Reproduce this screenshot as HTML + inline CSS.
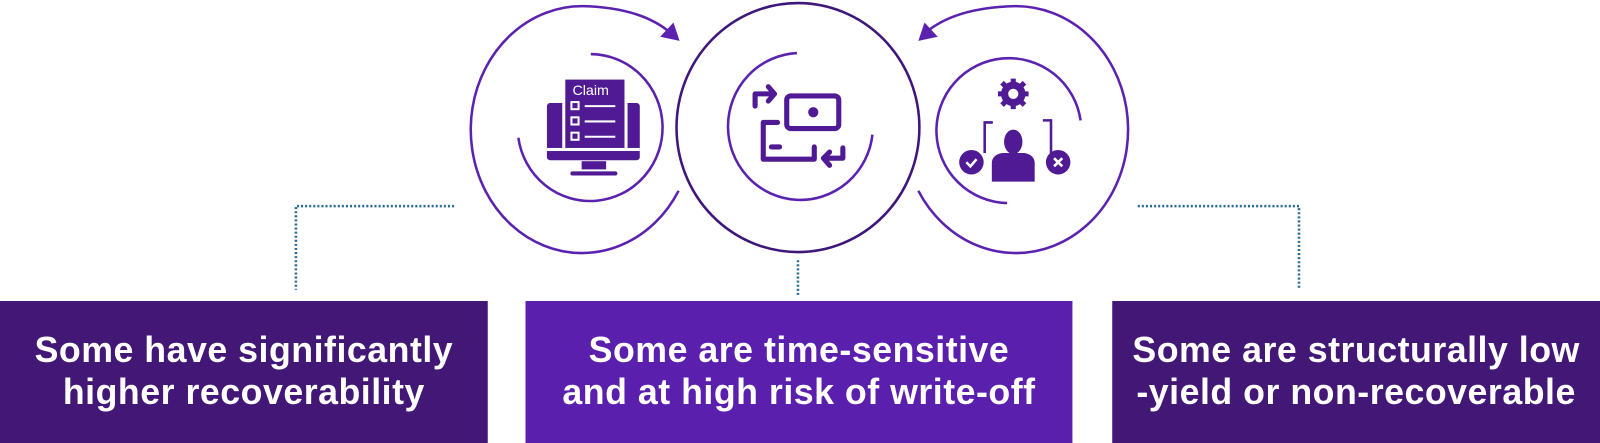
<!DOCTYPE html>
<html><head><meta charset="utf-8"><style>
html,body{margin:0;padding:0;background:#fff;width:1600px;height:443px;overflow:hidden;position:relative;font-family:"Liberation Sans",sans-serif}
#w{position:absolute;left:0;top:0;width:1568px;height:434px;transform:scale(1.0204);transform-origin:0 0}
.box{position:absolute;top:295px;height:142px;box-sizing:border-box;padding-bottom:4px;display:flex;align-items:center;justify-content:center;text-align:center;color:#fff;font-weight:bold;font-size:35px;line-height:41px;letter-spacing:0.5px}
svg{position:absolute;left:0;top:0}
</style></head><body><div id="w">
<svg width="1568" height="434" viewBox="0 0 1568 434">
<g fill="none" stroke="#2b6b8c" stroke-width="2.5" stroke-dasharray="2 2">
<path d="M445 202 H290 V284"/>
<path d="M1115 202 H1273 V284"/>
<path d="M782 255 V290"/>
</g>
<g fill="none" stroke="#5b22b0" stroke-width="2.5">
<path d="M658 33 C640 17 612 7 571 6 A109 121 0 1 0 665 187"/>
<path d="M906 33 C924 17 952 7 995 6 A110 121 0 1 1 900 187"/>
<path d="M579 53 A71 72 0 1 1 508 135"/>
<path d="M781 52 A71 72 0 1 0 855 132"/>
<path d="M1059 118 A71 71 0 1 0 987 199"/>
</g>
<path d="M666 40 L647 36 L660 22 z" fill="#5b22b0"/>
<path d="M900 40 L919 36 L906 22 z" fill="#5b22b0"/>
<ellipse cx="782" cy="125" rx="119" ry="122" fill="none" stroke="#3f1679" stroke-width="2.5"/>
<g fill="#4f1a93">
<rect x="536" y="101" width="91" height="56" rx="3"/>
<rect x="554" y="78" width="58" height="68"/>
<rect x="570" y="158" width="24" height="8"/>
<rect x="559" y="168" width="46" height="4" rx="2"/>
</g>
<g fill="#fff"><rect x="536" y="145" width="91" height="3"/><rect x="551" y="101" width="3" height="44"/><rect x="612" y="101" width="3" height="44"/></g>
<text x="561" y="93" fill="#fff" font-size="14" font-family="Liberation Sans">Claim</text>
<g fill="none" stroke="#fff" stroke-width="2">
<rect x="560" y="100" width="7" height="7"/><rect x="560" y="115" width="7" height="7"/><rect x="560" y="130" width="7" height="7"/>
<path d="M573 104h30M573 119h30M573 134h30"/></g>
<g fill="none" stroke="#4f1a93" stroke-width="5" stroke-linecap="round" stroke-linejoin="round">
<rect x="771" y="94" width="51" height="32" rx="4"/>
<path d="M762 120h-14v36h50v-12"/>
<path d="M740 104v-12h18M753 85l6 7-6 7"/>
<path d="M826 145v10h-18M813 149l-6 6 6 7"/>
<path d="M756 144h8"/>
</g>
<circle cx="797" cy="110" r="5" fill="#4f1a93"/>
<g fill="#4f1a93">
<circle cx="993" cy="92" r="12"/>
<g stroke="#4f1a93" stroke-width="5"><path d="M993 77v30M978 92h30M982 81l22 22M1004 81l-22 22"/></g>
<ellipse cx="993" cy="139" rx="9" ry="12"/>
<path d="M972 178v-18q0-8 10-10h22q10 2 10 10v18z"/>
<circle cx="952" cy="159" r="12"/><circle cx="1037" cy="159" r="12"/>
</g>
<circle cx="993" cy="92" r="5" fill="#fff"/>
<g fill="none" stroke="#4f1a93" stroke-width="2.5"><path d="M965 150v-30h8M1022 118h8v32"/></g>
<g fill="none" stroke="#fff" stroke-width="2.5"><path d="M947 159l4 4 6-7M1033 155l8 8M1041 155l-8 8"/></g>
</svg>
<div class="box" style="left:0;width:478px;background:#421775">Some have significantly<br>higher recoverability</div>
<div class="box" style="left:515px;width:536px;background:#5b1fae">Some are time-sensitive<br>and at high risk of write-off</div>
<div class="box" style="left:1090px;width:478px;background:#421775">Some are structurally low<br>-yield or non-recoverable</div>
</div></body></html>
